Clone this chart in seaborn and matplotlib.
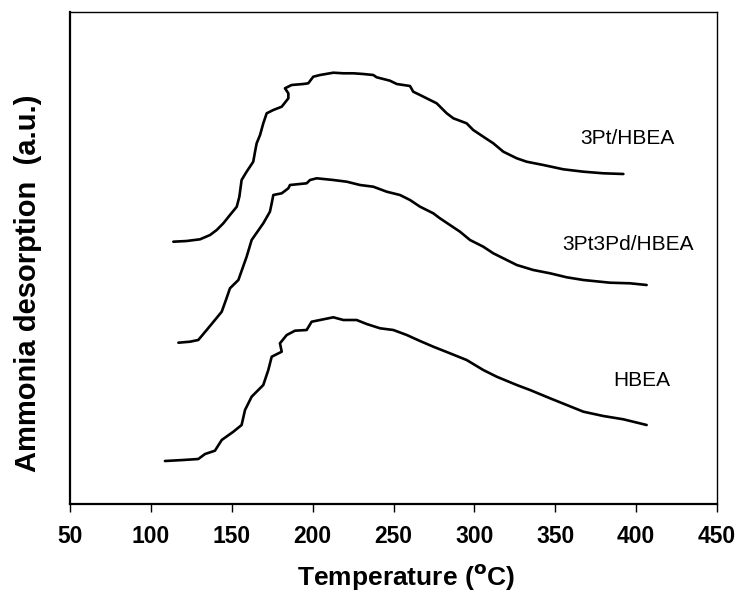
import matplotlib
matplotlib.use("Agg")
import matplotlib.pyplot as plt
import seaborn as sns
import pandas as pd

# ---- data (temperature in degC, signal in arbitrary units) ----
pt_T = [113.9, 122.1, 130.4, 136.6, 140.7, 144.8, 148.9, 153.1, 154.7, 156.1, 159.2,
        163.3, 164.4, 165.4, 167.5, 169.5, 171.6, 175.7, 180.9, 185.0, 185.0, 182.9,
        187.0, 194.2, 197.3, 200.4, 204.6, 212.8, 219.0, 225.2, 231.3, 237.5, 239.6,
        247.8, 252.0, 260.2, 262.2, 266.4, 276.7, 282.9, 287.0, 295.2, 299.3, 305.5,
        311.7, 317.9, 326.2, 332.3, 342.6, 355.0, 367.4, 379.7, 392.1]
pt_S = [262.3, 263, 264.7, 269, 274, 280.7, 289, 297.3, 307.3, 324, 332.3,
        342.3, 352.3, 360.7, 369, 380.7, 390.7, 394, 397.3, 405.7, 410.7, 415.7,
        419, 420, 420.7, 427.3, 429, 431.3, 430.7, 430.7, 430, 429, 426.7,
        423.3, 420, 418, 412.3, 409, 400.7, 390.7, 385.7, 380.7, 374, 367.3,
        360.7, 352.3, 345.7, 342.3, 339, 334.7, 332.3, 330.7, 330]

ptpd_T = [117.0, 124.2, 129.3, 134.5, 139.6, 143.8, 146.4, 148.9, 154.1, 159.2, 162.3,
          169.5, 173.6, 174.7, 175.7, 180.9, 185.0, 186.0, 196.3, 198.4, 202.5, 212.8,
          221.1, 229.3, 237.5, 245.8, 254.0, 260.2, 266.4, 274.6, 278.7, 284.9, 291.1,
          297.3, 305.5, 311.7, 320.0, 326.2, 336.4, 346.8, 357.1, 367.4, 383.8, 396.2,
          406.5]
ptpd_S = [161.3, 162.3, 164, 174, 184, 192.3, 204, 215.7, 224, 247.3, 264,
          280.7, 292.3, 300.7, 309, 310.7, 315.7, 319, 320.7, 324, 325.7, 324,
          322.3, 319, 317.3, 312.3, 309, 304, 297.3, 290.7, 285.7, 279, 272.3,
          264, 257.3, 250.7, 244, 239, 234, 230.7, 226.7, 224, 221.3, 220.7,
          219]

hbea_T = [108.7, 120.0, 129.3, 133.5, 139.6, 143.8, 151.0, 156.1, 158.2, 162.3, 169.5,
          172.6, 174.7, 180.9, 179.8, 184.0, 189.1, 196.3, 199.4, 204.6, 212.8, 219.0,
          227.2, 233.4, 241.7, 249.9, 258.2, 266.4, 274.6, 284.9, 295.2, 305.5, 313.8,
          326.2, 334.4, 346.8, 357.1, 367.4, 379.7, 392.1, 406.5]
hbea_S = [43, 44, 45, 50, 53.3, 64, 72.3, 79, 94, 107.3, 119,
          134, 147.3, 152.3, 160.7, 169, 173.3, 174, 182.3, 184, 186.7, 184,
          184, 180, 175.7, 174, 169, 163, 157.3, 150.7, 144, 134, 127.3,
          119, 114, 105.7, 99, 92.3, 88, 84.7, 79]

samples = ["3Pt/HBEA", "3Pt3Pd/HBEA", "HBEA"]
x_ticks = [50, 100, 150, 200, 250, 300, 350, 400, 450]

frames = []
for name, T, S in zip(samples, [pt_T, ptpd_T, hbea_T], [pt_S, ptpd_S, hbea_S]):
    frames.append(pd.DataFrame({"T": T, "S": S, "sample": name}))
df = pd.concat(frames, ignore_index=True)

sns.set_style("white")
plt.rcParams["font.family"] = ["Liberation Sans", "DejaVu Sans"]
plt.rcParams["text.color"] = "black"
plt.rcParams["axes.labelcolor"] = "black"
plt.rcParams["xtick.color"] = "black"
plt.rcParams["ytick.color"] = "black"

fig = plt.figure(figsize=(7.37, 5.92), dpi=100)
ax = fig.add_axes([70 / 737, 1 - 504 / 592, (717 - 70) / 737, (504 - 12) / 592])

sns.lineplot(data=df, x="T", y="S", hue="sample", units="sample", estimator=None,
             sort=False, palette={s: "black" for s in samples}, linewidth=1.9,
             legend=False, ax=ax)

ax.set_xlim(50, 450)
ax.set_ylim(0, 492)
ax.set_xticks(x_ticks)
ax.set_xticklabels([str(t) for t in x_ticks], fontsize=16.5, fontweight="bold")
ax.set_yticks([])
ax.tick_params(axis="x", direction="out", length=6, width=1, pad=9, bottom=True,
               colors="black")

ax.set_xlabel(r"Temperature ($^{\mathbf{o}}$C)", fontsize=19, fontweight="bold", color="black")
ax.xaxis.set_label_coords(0.519, -0.118)
ax.set_ylabel("Ammonia desorption  (a.u.)", fontsize=21, fontweight="bold", color="black")
ax.yaxis.set_label_coords(-0.043, 0.449)

for sp in ["left", "bottom"]:
    ax.spines[sp].set_linewidth(1.6)
    ax.spines[sp].set_color("black")
for sp in ["top", "right"]:
    ax.spines[sp].set_linewidth(1.0)
    ax.spines[sp].set_color("black")

label_pos = {"3Pt/HBEA": (394.4, 366), "3Pt3Pd/HBEA": (395, 259), "HBEA": (403.6, 124)}
for s in samples:
    xx, yy = label_pos[s]
    ax.text(xx, yy, s, fontsize=15, ha="center", va="center", color="black")

fig.savefig("out.png", dpi=100)
